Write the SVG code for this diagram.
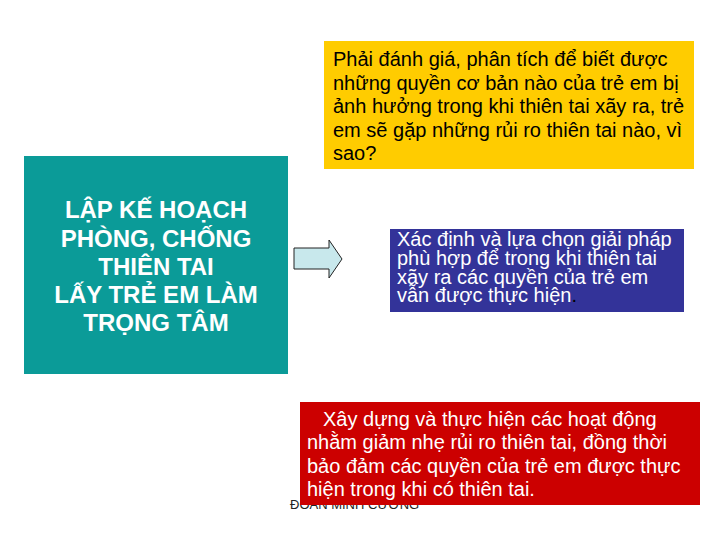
<svg xmlns="http://www.w3.org/2000/svg" width="720" height="540" viewBox="0 0 720 540">
<style>
.t{font-family:"Liberation Sans",Arial,sans-serif;font-size:20px}
.w{fill:#ffffff}
.k{fill:#000000}
.h{font-family:"Liberation Sans",Arial,sans-serif;font-size:24px;font-weight:bold;fill:#ffffff;text-anchor:middle}
</style>
<rect width="720" height="540" fill="#ffffff"/>
<g id="footer">
<text x="290" y="509" style="font-family:'Liberation Sans',Arial,sans-serif;font-size:13px;fill:#222222">ĐOÀN MINH CƯỜNG</text>
</g>
<g id="question">
<rect x="324" y="41" width="370" height="128" fill="#FFCC00"/>
<text class="t k" x="333" y="66">Phải đánh giá, phân tích để biết được</text>
<text class="t k" x="333" y="90">những quyền cơ bản nào của trẻ em bị</text>
<text class="t k" x="333" y="113">ảnh hưởng trong khi thiên tai xãy ra, trẻ</text>
<text class="t k" x="333" y="137">em sẽ gặp những rủi ro thiên tai nào, vì</text>
<text class="t k" x="333" y="160">sao?</text>
</g>
<g id="main">
<rect x="24" y="156" width="264" height="218" fill="#0B9B98"/>
<text class="h" x="156" y="218">LẬP KẾ HOẠCH</text>
<text class="h" x="156" y="247">PHÒNG, CHỐNG</text>
<text class="h" x="156" y="275">THIÊN TAI</text>
<text class="h" x="156" y="303">LẤY TRẺ EM LÀM</text>
<text class="h" x="156" y="331">TRỌNG TÂM</text>
</g>
<g id="connectors">
<polygon points="294,248 329,248 329,240 342,259 329,278 329,269 294,269" fill="#C8E8EC" stroke="#222222" stroke-width="1"/>
</g>
<g id="solution">
<rect x="390" y="229" width="294" height="83" fill="#333399"/>
<text class="t w" x="397" y="246">Xác định và lựa chọn giải pháp</text>
<text class="t w" x="397" y="265">phù hợp để trong khi thiên tai</text>
<text class="t w" x="397" y="284">xãy ra các quyền của trẻ em</text>
<text class="t w" x="397" y="302">vẫn được thực hiện<tspan fill="#000000">.</tspan></text>
</g>
<g id="action">
<rect x="300" y="402" width="400" height="103" fill="#CC0000"/>
<text class="t w" x="323" y="426">Xây dựng và thực hiện các hoạt động</text>
<text class="t w" x="307" y="449">nhằm giảm nhẹ rủi ro thiên tai, đồng thời</text>
<text class="t w" x="307" y="473">bảo đảm các quyền của trẻ em được thực</text>
<text class="t w" x="307" y="496">hiện trong khi có thiên tai.</text>
</g>
</svg>
